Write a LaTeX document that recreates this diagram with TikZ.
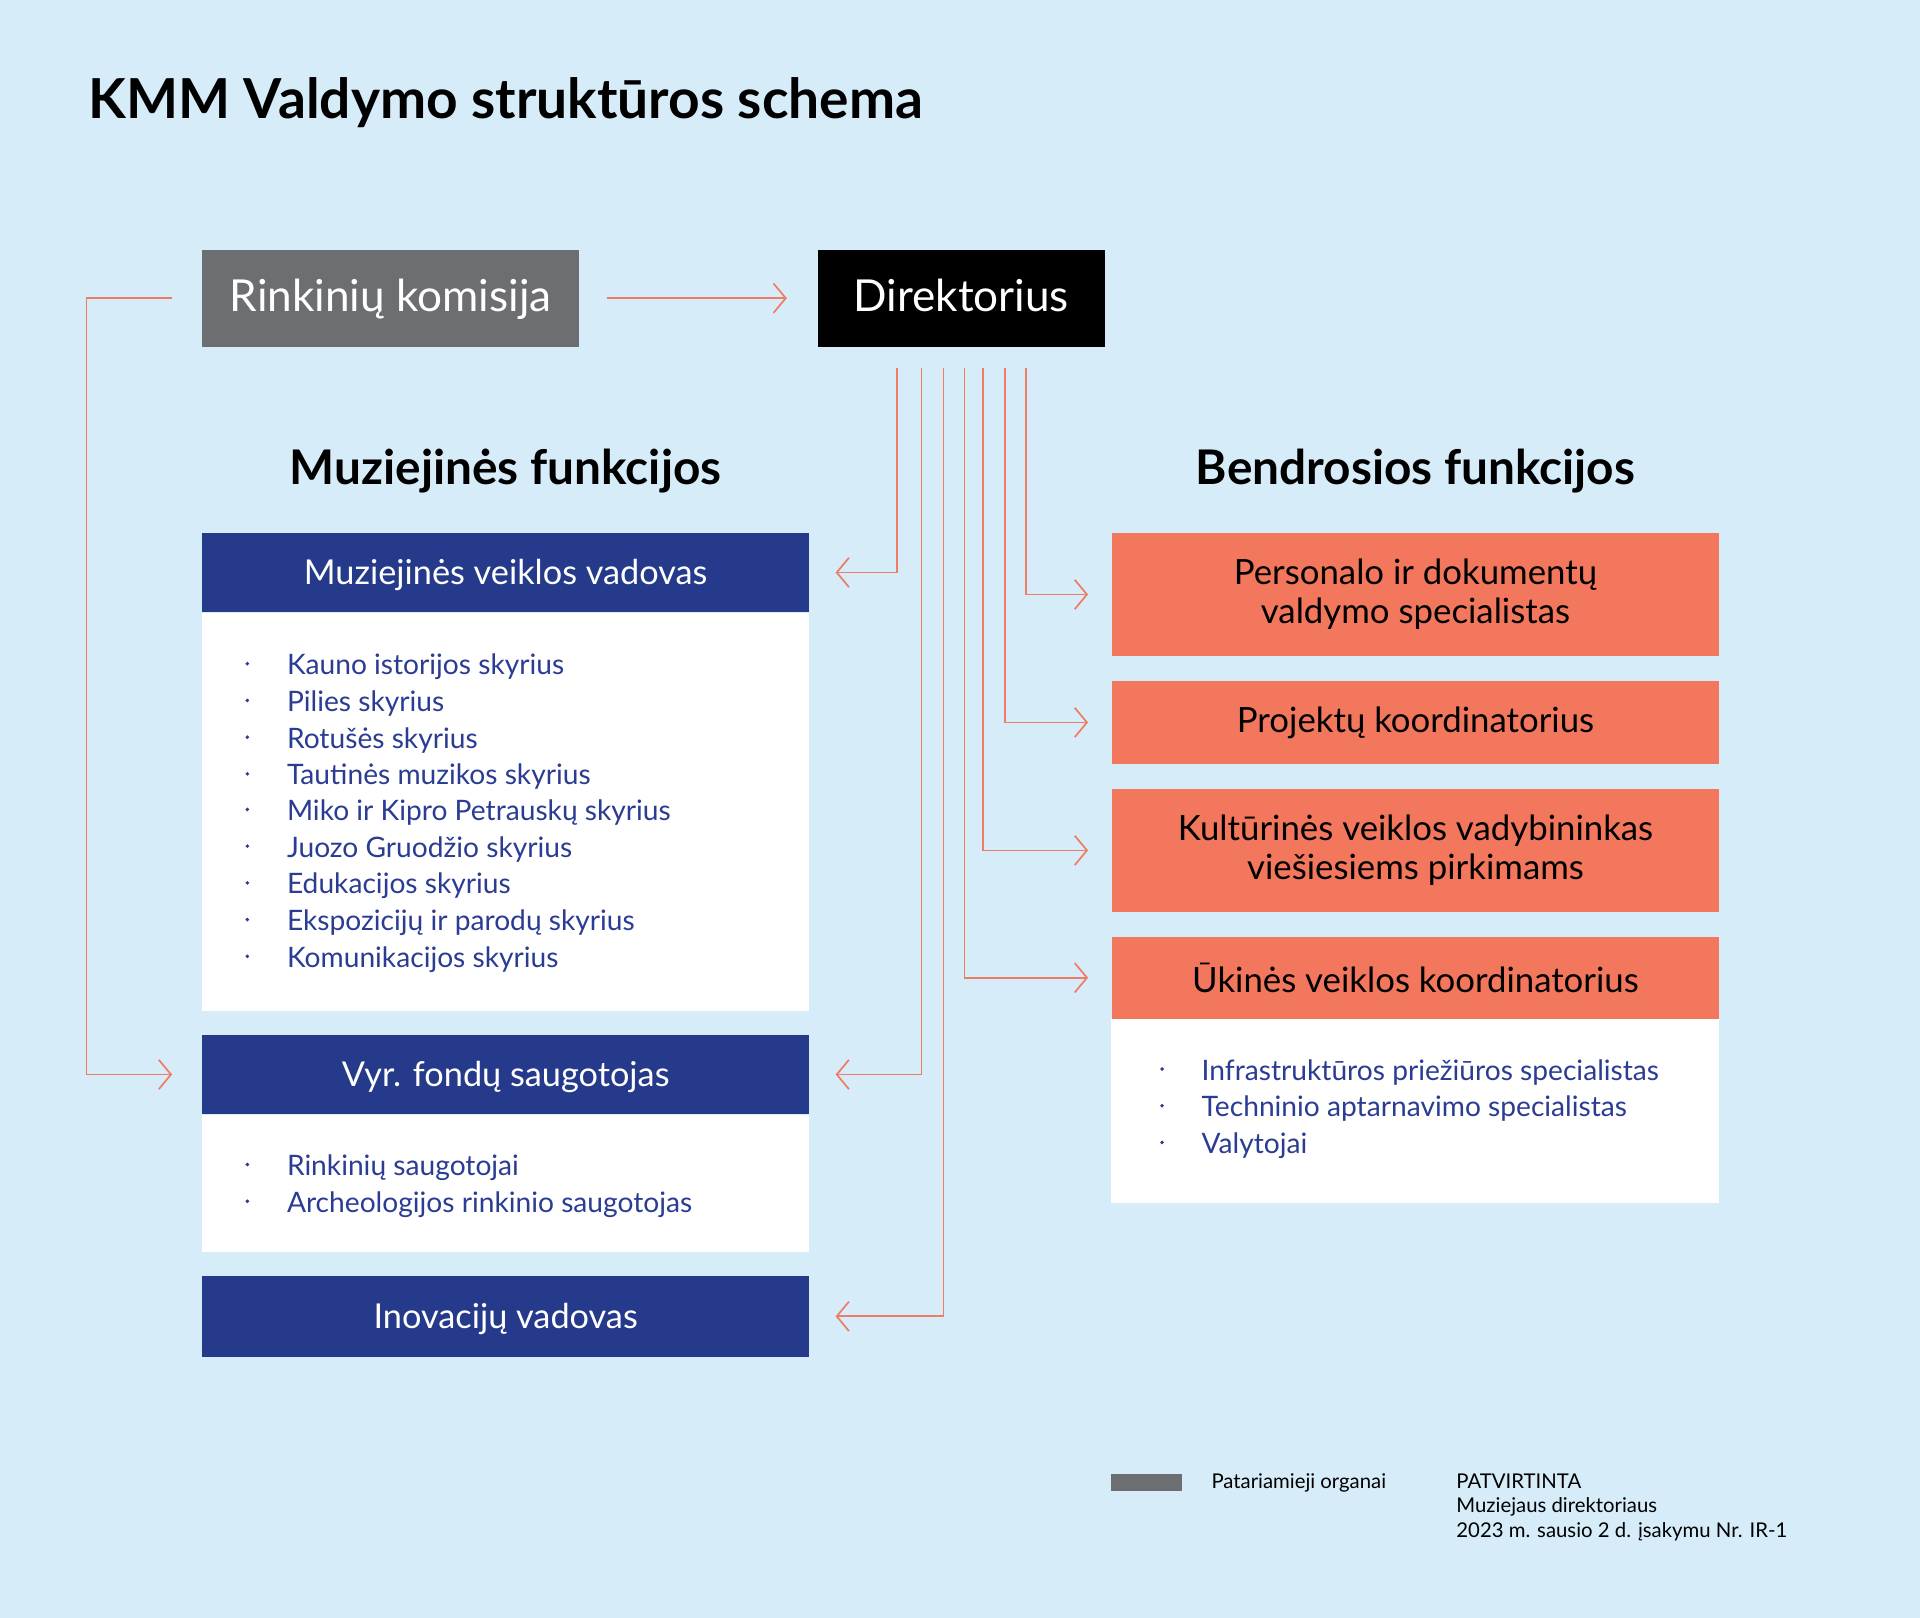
\documentclass[tikz,border=0pt]{standalone}
\usepackage{fontspec}
\setmainfont{Lato}
\usetikzlibrary{arrows.meta}
\definecolor{bgblue}{HTML}{D7ECF9}
\definecolor{navy}{HTML}{253A8A}
\definecolor{ink}{HTML}{2B3C93}
\definecolor{coral}{HTML}{F3775C}
\definecolor{greybox}{HTML}{6D6E71}
\definecolor{linkred}{HTML}{EF7C65}
\tikzset{
  >={Straight Barb[length=5pt,width=12pt]},
  link/.style={draw=linkred, line width=0.7pt},
  topbox/.style={text=white, minimum height=39.5pt, inner sep=0pt, text height=2.1ex, text depth=0pt, font=\fontsize{18}{21}\selectfont},
  navyhead/.style={fill=navy, text=white, minimum width=248pt, minimum height=32.5pt, inner sep=0pt, text height=2.0ex, text depth=0pt, font=\fontsize{14}{16}\selectfont},
  coralhead/.style={fill=coral, text=black, minimum width=248pt, inner sep=0pt, align=center, font=\fontsize{14.2}{16}\selectfont},
  item/.style={anchor=mid west, text=ink, inner sep=0pt, font=\fontsize{11.5}{13}\selectfont},
  heading/.style={anchor=base, inner sep=0pt, font=\fontsize{19.5}{22}\selectfont\bfseries},
  foot/.style={inner sep=0pt, font=\fontsize{8.3}{10}\selectfont}
}
\begin{document}
\begin{tikzpicture}[x=0.5pt,y=-0.5pt]
    \fill[bgblue] (0,0) rectangle (1568,1321);
    \node[anchor=base west, inner sep=0pt, font=\fontsize{22.5}{26}\selectfont\bfseries] (title) at (72,97) {KMM Valdymo struktūros schema};
    % top row
    \node[topbox, fill=greybox, minimum width=154pt] (rk) at (319,243.5) {Rinkinių komisija};
    \node[topbox, fill=black, minimum width=117pt] (dir) at (785,243.5) {Direktorius};
    \draw[link,->] ([xshift=11pt]rk.east) -- ([xshift=-12.5pt]dir.west);
    % muziejines funkcijos
    \node[heading] (mf) at (413,396) {Muziejinės funkcijos};
    \node[navyhead] (mvv) at (413,467.5) {Muziejinės veiklos vadovas};
    \fill[white] (mvv.south west) rectangle ++(496,325);
    \fill[ink] (202,542) circle (0.8pt) (202,572) circle (0.8pt) (202,602) circle (0.8pt)
               (202,632) circle (0.8pt) (202,661) circle (0.8pt) (202,691) circle (0.8pt)
               (202,721) circle (0.8pt) (202,751) circle (0.8pt) (202,781) circle (0.8pt);
    \node[item] (m1) at (234,546) {Kauno istorijos skyrius};
    \node[item] (m2) at (234,576) {Pilies skyrius};
    \node[item] (m3) at (234,606) {Rotušės skyrius};
    \node[item] (m4) at (234,636) {Tautinės muzikos skyrius};
    \node[item] (m5) at (234,665) {Miko ir Kipro Petrauskų skyrius};
    \node[item] (m6) at (234,695) {Juozo Gruodžio skyrius};
    \node[item] (m7) at (234,725) {Edukacijos skyrius};
    \node[item] (m8) at (234,755) {Ekspozicijų ir parodų skyrius};
    \node[item] (m9) at (234,785) {Komunikacijos skyrius};
    \node[navyhead] (vyr) at (413,877.5) {Vyr. fondų saugotojas};
    \fill[white] (vyr.south west) rectangle ++(496,112);
    \fill[ink] (202,951) circle (0.8pt) (202,981) circle (0.8pt);
    \node[item] (v1) at (234,955) {Rinkinių saugotojai};
    \node[item] (v2) at (234,985) {Archeologijos rinkinio saugotojas};
    \node[navyhead, minimum height=33pt] (ino) at (413,1075) {Inovacijų vadovas};
    % bendrosios funkcijos
    \node[heading] (bf) at (1156,396) {Bendrosios funkcijos};
    \node[coralhead, minimum height=50.5pt] (per) at (1156,485.5) {Personalo ir dokumentų\\valdymo specialistas};
    \node[coralhead, minimum height=34pt] (pro) at (1156,590) {Projektų koordinatorius};
    \node[coralhead, minimum height=50.5pt] (kul) at (1156,694.5) {Kultūrinės veiklos vadybininkas\\viešiesiems pirkimams};
    \node[coralhead, minimum height=33.5pt] (uki) at (1156,798.5) {Ūkinės veiklos koordinatorius};
    \fill[white] (uki.south west) rectangle ++(496,150);
    \fill[ink] (949,873) circle (0.8pt) (949,903) circle (0.8pt) (949,933) circle (0.8pt);
    \node[item] (u1) at (981,877) {Infrastruktūros priežiūros specialistas};
    \node[item] (u2) at (981,907) {Techninio aptarnavimo specialistas};
    \node[item] (u3) at (981,937) {Valytojai};
    % connectors
    \draw[link,->] ([xshift=-12pt]rk.west) -- ++(-70,0) |- ([xshift=-12pt]vyr.west);
    \draw[link,->] ([shift={(65,17)}]dir.south west) |- ([xshift=10.5pt]mvv.east);
    \draw[link,->] ([shift={(85,17)}]dir.south west) |- ([xshift=10.5pt]vyr.east);
    \draw[link,->] ([shift={(103,17)}]dir.south west) |- ([xshift=10.5pt]ino.east);
    \draw[link,->] ([shift={(120,17)}]dir.south west) |- ([xshift=-9.5pt]uki.west);
    \draw[link,->] ([shift={(135,17)}]dir.south west) |- ([xshift=-9.5pt]kul.west);
    \draw[link,->] ([shift={(153,17)}]dir.south west) |- ([xshift=-9.5pt]pro.west);
    \draw[link,->] ([shift={(170,17)}]dir.south west) |- ([xshift=-9.5pt]per.west);
    % footer
    \node[fill=greybox, minimum width=29pt, minimum height=7pt, inner sep=0pt] (leg) at (936,1211) {};
    \node[foot, anchor=west] (legtxt) at (989,1211) {Patariamieji organai};
    \node[foot, anchor=north west, align=left] (ok) at (1189,1203) {PATVIRTINTA\\Muziejaus direktoriaus\\2023 m. sausio 2 d. įsakymu Nr. IR-1};
\end{tikzpicture}
\end{document}
